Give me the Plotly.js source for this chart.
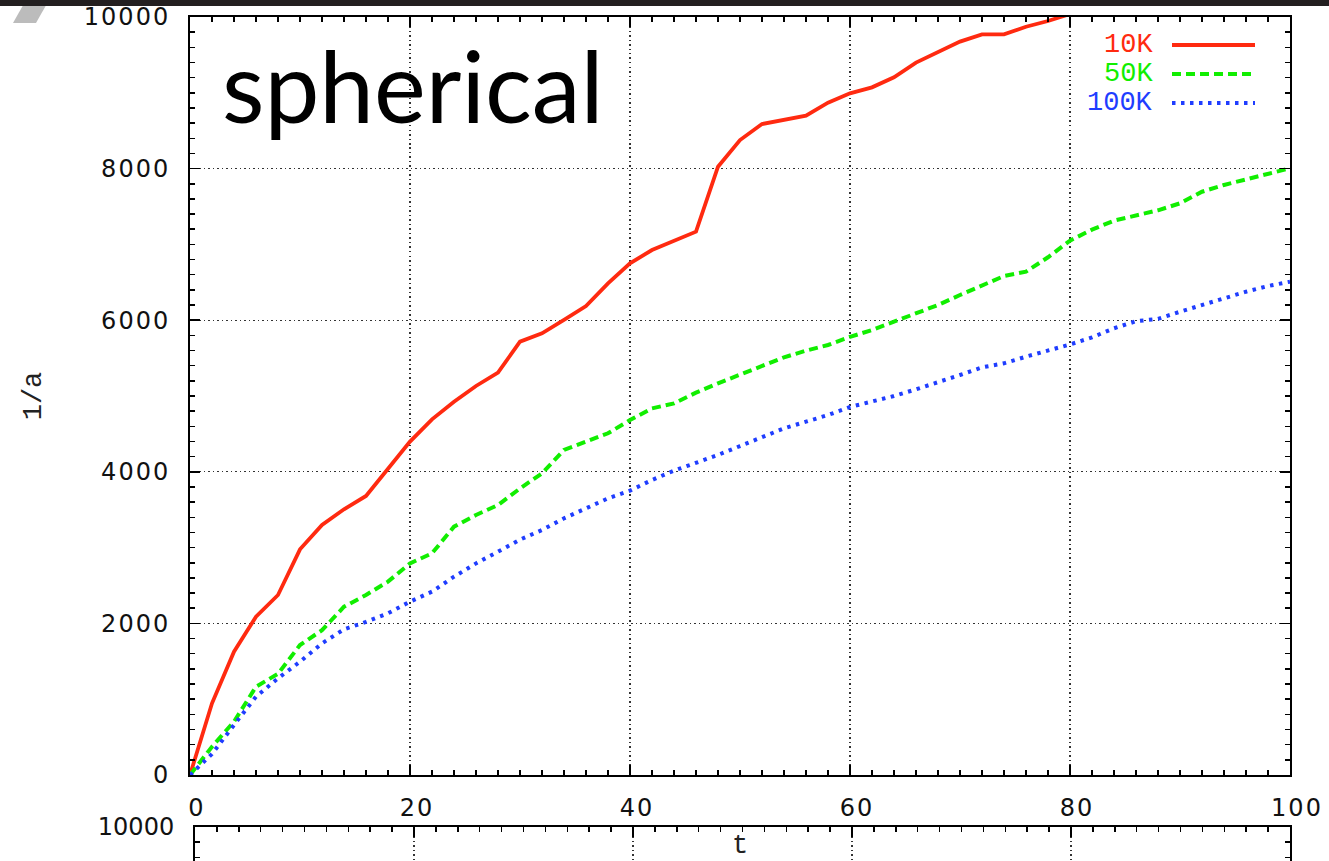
<!DOCTYPE html>
<html>
<head>
<meta charset="utf-8">
<script src="https://cdn.plot.ly/plotly-3.0.1.min.js"></script>
<style>
html,body{margin:0;padding:0;background:#fff;}
#chart{width:1329px;height:861px;}
.xtick text, .ytick text { letter-spacing: 2px; }
</style>
</head>
<body>
<div id="chart"></div>
<script>
// time axis values
const tRed = [0,2,4,6,8,10,12,14,16,18,20,22,24,26,28,30,32,34,36,38,40,42,44,46,48,50,52,54,56,58,60,62,64,66,68,70,72,74,76,78,80];
const tAll = [0,2,4,6,8,10,12,14,16,18,20,22,24,26,28,30,32,34,36,38,40,42,44,46,48,50,52,54,56,58,60,62,64,66,68,70,72,74,76,78,80,82,84,86,88,90,92,94,96,98,100];

// 1/a series
const s10K = [0,946,1627,2089,2375,2977,3298,3505,3681,4046,4398,4692,4925,5132,5308,5717,5827,6003,6187,6486,6750,6926,7049,7168,8025,8377,8588,8641,8698,8870,8993,9072,9204,9398,9543,9675,9771,9771,9872,9947,10040];
const s50K = [0,374,704,1165,1335,1715,1910,2220,2375,2551,2792,2924,3276,3430,3562,3780,3980,4288,4398,4508,4683,4837,4903,5044,5167,5277,5387,5510,5598,5673,5780,5871,5980,6091,6201,6332,6464,6583,6640,6830,7050,7195,7313,7380,7450,7542,7695,7784,7858,7929,8004];
const s100K = [0,277,660,1033,1275,1495,1737,1922,2020,2133,2287,2419,2616,2792,2946,3105,3232,3386,3518,3650,3751,3892,4015,4112,4222,4340,4463,4573,4661,4749,4855,4925,5000,5088,5176,5277,5378,5431,5519,5598,5680,5774,5893,5987,6018,6112,6201,6289,6376,6451,6508];

const seriesNames = ["10K","50K","100K"];
const seriesColors = ["#ff2a10","#11ee00","#1f3dff"];
const seriesDash = ["solid","9px,5px","3.5px,5.5px"];
const seriesWidth = [3.8,4,4];

const W = 1329, H = 861;
const px = v => v / W;
const py = v => 1 - v / H;

const traces = [
  {x: tRed, y: s10K, name: seriesNames[0], mode: "lines", line: {color: seriesColors[0], width: seriesWidth[0], dash: seriesDash[0]}, xaxis: "x", yaxis: "y", showlegend: false},
  {x: tAll, y: s50K, name: seriesNames[1], mode: "lines", line: {color: seriesColors[1], width: seriesWidth[1], dash: seriesDash[1]}, xaxis: "x", yaxis: "y", showlegend: false},
  {x: tAll, y: s100K, name: seriesNames[2], mode: "lines", line: {color: seriesColors[2], width: seriesWidth[2], dash: seriesDash[2]}, xaxis: "x", yaxis: "y", showlegend: false},
  {x: [], y: [], mode: "lines", xaxis: "x2", yaxis: "y2", showlegend: false, hoverinfo: "skip"}
];

const tickFont = {family: "DejaVu Sans", size: 24, color: "#111"};
const monoFont = {family: "Liberation Mono", size: 27, color: "#222"};

function axisCommon(extra) {
  return Object.assign({
    showline: true, linecolor: "#000", linewidth: 2, mirror: "allticks",
    ticks: "inside", ticklen: 10, tickwidth: 1.5, tickcolor: "#000",
    showgrid: true, gridcolor: "#333", gridwidth: 1.2, griddash: "1.5px,3px",
    zeroline: false, tickfont: tickFont, automargin: false, tickformat: "d"
  }, extra);
}

const shapes = [
  {type: "path", xref: "paper", yref: "paper", layer: "above",
   path: `M ${px(13)},${py(23)} L ${px(36)},${py(23)} L ${px(49)},${py(0)} L ${px(26)},${py(0)} Z`,
   fillcolor: "#bcbcbc", line: {width: 0}},
  {type: "rect", xref: "paper", yref: "paper", layer: "above",
   x0: 0, x1: 1, y0: py(6), y1: 1, fillcolor: "#231f20", line: {width: 0}}
];
const annotations = [
  {text: "spherical", xref: "paper", yref: "paper", x: px(220), y: py(24), xanchor: "left", yanchor: "top",
   showarrow: false, font: {family: "Lato", size: 98, color: "#000"}}
];
const legendRowY = [45, 74, 103];
for (let i = 0; i < 3; i++) {
  annotations.push({text: seriesNames[i], xref: "paper", yref: "paper", x: px(1155), y: py(legendRowY[i]),
    xanchor: "right", yanchor: "middle", showarrow: false,
    font: {family: "Liberation Mono", size: 27, color: seriesColors[i]}});
  shapes.push({type: "line", xref: "paper", yref: "paper", x0: px(1172), x1: px(1255),
    y0: py(legendRowY[i]), y1: py(legendRowY[i]),
    line: {color: seriesColors[i], width: seriesWidth[i], dash: seriesDash[i]}});
}

const layout = {
  width: W, height: H,
  margin: {l: 0, r: 0, t: 0, b: 0},
  paper_bgcolor: "#fff", plot_bgcolor: "#fff",
  showlegend: false,
  xaxis: axisCommon({
    domain: [px(190), px(1290)], range: [0, 100], dtick: 20, anchor: "y",
    minor: {dtick: 2, ticks: "inside", ticklen: 5, tickwidth: 1.5, tickcolor: "#000", showgrid: false},
    ticklabelstandoff: 10, ticklabelshift: 7,
    title: {text: "t", font: monoFont, standoff: 48}
  }),
  yaxis: axisCommon({
    domain: [py(775), py(17)], range: [0, 10000], dtick: 2000, anchor: "x",
    minor: {dtick: 200, ticks: "inside", ticklen: 5, tickwidth: 1.5, tickcolor: "#000", showgrid: false},
    ticklabelstandoff: 13,
    title: {text: "1/a", font: monoFont, standoff: 34}
  }),
  xaxis2: axisCommon({
    domain: [px(195), px(1290)], range: [0, 100], dtick: 20, anchor: "y2", side: "top", mirror: false,
    minor: {dtick: 2, ticks: "inside", ticklen: 5, tickwidth: 1.5, tickcolor: "#000", showgrid: false},
    showticklabels: false
  }),
  yaxis2: axisCommon({
    domain: [0, py(827)], range: [9551, 10000], dtick: 2000, anchor: "x2",
    minor: {dtick: 200, ticks: "inside", ticklen: 5, tickwidth: 1.5, tickcolor: "#000", showgrid: false},
    ticklabelstandoff: 14
  }),
  shapes: shapes,
  annotations: annotations
};

Plotly.newPlot("chart", traces, layout, {staticPlot: true, displayModeBar: false});
</script>
</body>
</html>
